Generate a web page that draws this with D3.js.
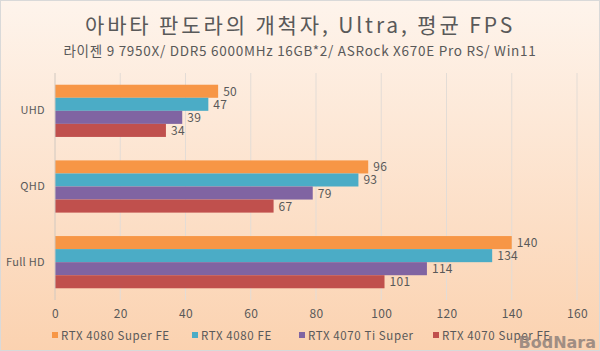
<!DOCTYPE html>
<html>
<head>
<meta charset="utf-8">
<script src="https://cdn.jsdelivr.net/npm/d3@7"></script>
<style>
  body { margin: 0; padding: 0; }
  svg { display: block; }
</style>
</head>
<body>
<div id="graphic"></div>
<script>
// chart data
const categories = ["UHD", "QHD", "Full HD"];
const seriesNames = ["RTX 4080 Super FE", "RTX 4080 FE", "RTX 4070 Ti Super", "RTX 4070 Super FE"];
const seriesColors = ["#f79646", "#4bacc6", "#8064a2", "#c0504d"];
const rtx4080SuperFE = [50, 96, 140];
const rtx4080FE = [47, 93, 134];
const rtx4070TiSuper = [39, 79, 114];
const rtx4070SuperFE = [34, 67, 101];
const xTicks = [0, 20, 40, 60, 80, 100, 120, 140, 160];
const titleText = "아바타 판도라의 개척자, Ultra, 평균 FPS";
const subtitleText = "라이젠 9 7950X/ DDR5 6000MHz 16GB*2/ ASRock X670E Pro RS/ Win11";

const seriesValues = [rtx4080SuperFE, rtx4080FE, rtx4070TiSuper, rtx4070SuperFE];

const graphicWidth = 600;
const graphicHeight = 351;
const margin = {top: 73, right: 23, bottom: 51, left: 55};
const plotWidth = graphicWidth - margin.left - margin.right;
const plotHeight = graphicHeight - margin.top - margin.bottom;
const font = "'Noto Sans CJK KR', 'DejaVu Sans', sans-serif";
const textColor = "#595959";

const svg = d3.select("#graphic")
    .append("svg")
    .attr("width", graphicWidth)
    .attr("height", graphicHeight);

// background gradient
const grad = svg.append("defs").append("linearGradient")
    .attr("id", "bg")
    .attr("x1", 0).attr("y1", 0).attr("x2", 0).attr("y2", 1);
grad.append("stop").attr("offset", "0%").attr("stop-color", "#fef4ec");
grad.append("stop").attr("offset", "100%").attr("stop-color", "#fbd2b0");

svg.append("rect")
    .attr("x", 0.5).attr("y", 0.5)
    .attr("width", graphicWidth - 1).attr("height", graphicHeight - 1)
    .attr("fill", "url(#bg)")
    .attr("stroke", "#d9d9d9");

// titles, stretched to the reference width
function fitText(sel, targetWidth) {
    const w = sel.node().getComputedTextLength();
    const n = sel.text().length;
    sel.attr("letter-spacing", ((targetWidth - w) / n).toFixed(2));
}
const title = svg.append("text")
    .attr("x", graphicWidth / 2).attr("y", 33)
    .attr("text-anchor", "middle")
    .attr("font-family", font).attr("font-size", 21)
    .attr("fill", textColor)
    .text(titleText);
fitText(title, 430);
const subtitle = svg.append("text")
    .attr("x", graphicWidth / 2).attr("y", 56)
    .attr("text-anchor", "middle")
    .attr("font-family", font).attr("font-size", 13.5)
    .attr("fill", textColor)
    .text(subtitleText);
fitText(subtitle, 473);

const plot = svg.append("g")
    .attr("transform", "translate(" + margin.left + "," + margin.top + ")");

const x = d3.scaleLinear()
    .domain([0, 160])
    .range([0, plotWidth]);

const y = d3.scaleBand()
    .domain(categories)
    .range([0, plotHeight])
    .paddingInner(0.31)
    .paddingOuter(0.155);

const ySub = d3.scaleBand()
    .domain(seriesNames)
    .range([0, y.bandwidth()]);

// grid lines
plot.append("g")
    .selectAll("line")
    .data(xTicks.slice(1))
    .join("line")
    .attr("x1", d => x(d)).attr("x2", d => x(d))
    .attr("y1", 0).attr("y2", plotHeight)
    .attr("stroke", "#e3dcd6")
    .attr("stroke-width", 1);

// bars
const groups = plot.selectAll(".cat")
    .data(categories)
    .join("g")
    .attr("class", "cat")
    .attr("transform", d => "translate(0," + y(d) + ")");

groups.each(function(cat, ci) {
    const g = d3.select(this);
    seriesNames.forEach((name, si) => {
        const v = seriesValues[si][ci];
        g.append("rect")
            .attr("x", x(0))
            .attr("y", ySub(name))
            .attr("width", x(v) - x(0))
            .attr("height", ySub.bandwidth())
            .attr("fill", seriesColors[si]);
        g.append("text")
            .attr("x", x(v) + 5)
            .attr("y", ySub(name) + ySub.bandwidth() / 2 + 4.5)
            .attr("font-family", font).attr("font-size", 12)
            .attr("letter-spacing", 0.3)
            .attr("fill", textColor)
            .text(v);
    });
});

// left axis line
plot.append("line")
    .attr("x1", 0).attr("x2", 0)
    .attr("y1", 0).attr("y2", plotHeight)
    .attr("stroke", "#d0c8c0");

// x axis labels
const xAxis = plot.append("g")
    .attr("transform", "translate(0," + plotHeight + ")")
    .call(d3.axisBottom(x).tickValues(xTicks).tickSize(0).tickPadding(9));
xAxis.select(".domain").remove();
xAxis.selectAll("text")
    .attr("font-family", font).attr("font-size", 12)
    .attr("letter-spacing", 0.3)
    .attr("fill", textColor);

// y axis labels
const yAxis = plot.append("g")
    .call(d3.axisLeft(y).tickSize(0).tickPadding(10));
yAxis.select(".domain").remove();
yAxis.selectAll("text")
    .attr("font-family", font).attr("font-size", 11)
    .attr("letter-spacing", 0.3)
    .attr("fill", textColor);

// legend
const legendX = [52, 192, 299, 433];
const legend = svg.append("g");
seriesNames.forEach((name, i) => {
    const item = legend.append("g")
        .attr("transform", "translate(" + legendX[i] + ",336)");
    item.append("rect")
        .attr("x", 0).attr("y", -4)
        .attr("width", 6).attr("height", 6)
        .attr("fill", seriesColors[i]);
    item.append("text")
        .attr("x", 9).attr("y", 3.5)
        .attr("font-family", font).attr("font-size", 11.5)
        .attr("letter-spacing", 0.6)
        .attr("fill", textColor)
        .text(name);
});

// watermark
svg.append("text")
    .attr("x", 596).attr("y", 348)
    .attr("text-anchor", "end")
    .attr("font-family", "'DejaVu Sans', sans-serif")
    .attr("font-weight", "bold").attr("font-size", 16)
    .attr("fill", "#8a7d78").attr("opacity", 0.8)
    .text("BodNara");
</script>
</body>
</html>
